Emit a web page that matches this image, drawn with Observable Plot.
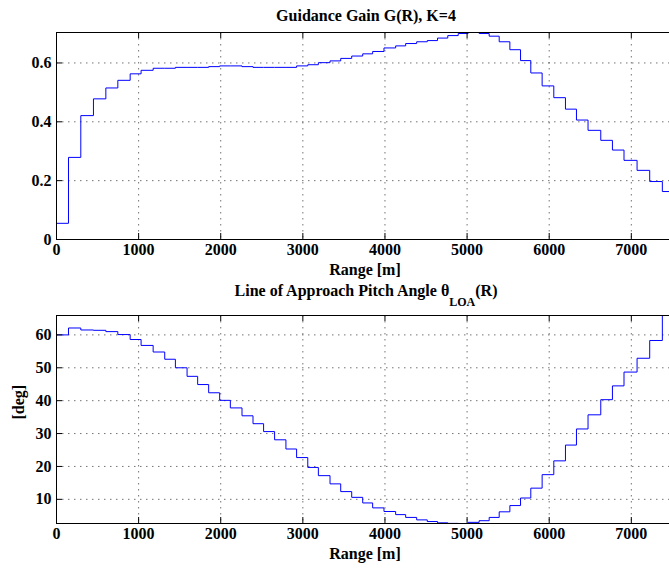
<!DOCTYPE html>
<html><head><meta charset="utf-8">
<script src="https://cdn.jsdelivr.net/npm/d3@7"></script>
<script src="https://cdn.jsdelivr.net/npm/@observablehq/plot@0.6"></script>
<style>
html,body{margin:0;padding:0;background:#fff;overflow:hidden;}
svg{display:block;}
</style></head><body><div id="chart"></div>
<script>
// Range at which each step starts [m]
const rangeStart = [0, 146, 296, 450, 601, 747, 897, 1030, 1177, 1318,
  1448, 1590, 1719, 1853, 1987, 2117, 2259, 2393, 2522, 2656,
  2794, 2924, 3060, 3189, 3331, 3461, 3595, 3729, 3850, 3988,
  4130, 4252, 4386, 4515, 4640, 4765, 4892, 5013, 5147, 5269,
  5391, 5521, 5651, 5776, 5914, 6056, 6198, 6332, 6473, 6628,
  6770, 6911, 7070, 7224, 7378];
const rangeEnd = 7500;
// Guidance gain G(R)
const gain = [0.055, 0.279, 0.421, 0.478, 0.515, 0.541, 0.563, 0.575, 0.582, 0.582,
  0.585, 0.585, 0.585, 0.5875, 0.590, 0.590, 0.5875, 0.585, 0.585, 0.585,
  0.585, 0.590, 0.594, 0.601, 0.607, 0.6155, 0.6235, 0.631, 0.639, 0.651,
  0.658, 0.666, 0.672, 0.676, 0.6845, 0.693, 0.700, 0.7035, 0.700, 0.691,
  0.672, 0.645, 0.608, 0.566, 0.522, 0.482, 0.443, 0.406, 0.371, 0.337,
  0.304, 0.269, 0.235, 0.197, 0.163];
// Line of approach pitch angle [deg]
const theta = [60.0, 62.1, 61.5, 61.4, 61.0, 60.1, 58.6, 56.8, 54.8, 52.6,
  50.0, 47.4, 44.9, 42.4, 40.1, 37.8, 35.4, 33.0, 30.6, 28.1,
  25.3, 22.7, 19.7, 17.2, 14.7, 12.35, 10.6, 8.9, 7.4, 6.3,
  5.35, 4.5, 3.75, 3.25, 2.85, 2.68, 2.65, 3.0, 3.5, 4.5,
  6.2, 8.1, 10.4, 13.4, 17.5, 21.7, 26.5, 31.4, 35.7, 40.3,
  44.5, 48.7, 52.9, 58.3, 65.9];

const xTicks = [0, 1000, 2000, 3000, 4000, 5000, 6000, 7000];
const gainTicks = [0, 0.2, 0.4, 0.6];
const thetaTicks = [10, 20, 30, 40, 50, 60];
const xDomain = [0, 7465];
const gainDomain = [0, 0.7035];
const thetaDomain = [2.65, 65.9];
const title1 = "Guidance Gain G(R), K=4";
const title2 = ["Line of Approach Pitch Angle \u03b8", "LOA", "(R)"];
const xLabel = "Range [m]";
const yLabel2 = "[deg]";

const W = 669, ML = 56, MR = 0;
const fontStyle = {fontFamily: "'Liberation Serif', 'Times New Roman', serif", fontSize: "16px", fontWeight: "bold", background: "#fff", color: "#000", overflow: "hidden"};

function panel({values, domain, yTicks, height, marginTop, marginBottom, extra}) {
  const rows = rangeStart.map((r, i) => ({r, v: values[i]}));
  rows.push({r: rangeEnd, v: values[values.length - 1]});
  const fh = height - marginTop - marginBottom;
  const fw = W - ML - MR;
  const gridStyle = {stroke: "#000", strokeOpacity: 0.55, strokeDasharray: "1.5,4.5"};
  return Plot.plot({
    width: W, height, marginLeft: ML, marginRight: MR, marginTop, marginBottom,
    style: fontStyle,
    x: {domain: xDomain, label: null},
    y: {domain, label: null},
    marks: [
      Plot.gridX(xTicks.filter(t => t > xDomain[0]), gridStyle),
      Plot.gridY(yTicks.filter(t => t > domain[0]), gridStyle),
      Plot.line(rows, {x: "r", y: "v", curve: "step-after", stroke: "#0000ff", strokeWidth: 1, clip: true}),
      Plot.ruleX([xDomain[0]], {stroke: "#000"}),
      Plot.ruleY(domain, {stroke: "#000"}),
      Plot.tickX(xTicks, {x: d => d, insetTop: fh - 6, stroke: "#000"}),
      Plot.tickX(xTicks, {x: d => d, insetBottom: fh - 6, stroke: "#000"}),
      Plot.tickY(yTicks, {y: d => d, insetRight: fw - 6, stroke: "#000"}),
      Plot.axisX(xTicks, {tickSize: 0, tickPadding: 4, tickFormat: d => String(d), label: null}),
      Plot.axisY(yTicks, {tickSize: 0, tickPadding: 5, tickFormat: d => String(d), label: null}),
      Plot.text([xLabel], {text: d => d, frameAnchor: "bottom", dy: 35, lineAnchor: "bottom", dx: 2}),
      ...extra
    ]
  });
}

const svg1 = panel({
  values: gain, domain: gainDomain, yTicks: gainTicks,
  height: 280, marginTop: 32, marginBottom: 41,
  extra: [Plot.text([title1], {text: d => d, frameAnchor: "top", dy: -11.5, dx: 3, lineAnchor: "bottom"})]
});

const svg2 = panel({
  values: theta, domain: thetaDomain, yTicks: thetaTicks,
  height: 288, marginTop: 35, marginBottom: 45,
  extra: [
    Plot.text([title2.join("")], {text: d => d, frameAnchor: "top", dy: -20, dx: 3, lineAnchor: "bottom"}),
    Plot.text([yLabel2], {text: d => d, frameAnchor: "left", rotate: -90, dx: -37.5})
  ]
});

// Rich title with subscript
d3.select(svg2).selectAll("text")
  .filter(function() { return this.textContent === title2.join(""); })
  .each(function() {
    const t = d3.select(this);
    t.text(null);
    t.append("tspan").text(title2[0]);
    t.append("tspan").attr("font-size", 12).attr("dy", 10).text(title2[1]);
    t.append("tspan").attr("dy", -10).text(title2[2]);
  });

const root = document.getElementById("chart");
root.appendChild(svg1);
root.appendChild(svg2);
</script></body></html>
